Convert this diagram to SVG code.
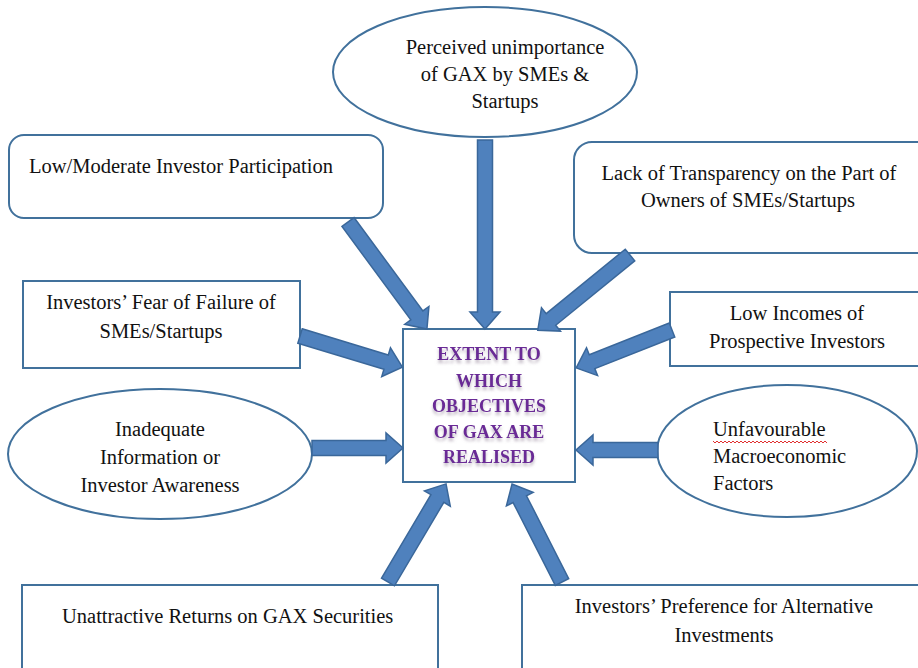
<svg xmlns="http://www.w3.org/2000/svg" width="918" height="668" viewBox="0 0 918 668">
<style>
.box{fill:#fff;stroke:#41719c;stroke-width:2}
.t{font-family:"Liberation Serif","Times New Roman",serif;font-size:20.5px;fill:#111}
.m{text-anchor:middle}
.c{font-family:"Liberation Serif","Times New Roman",serif;font-size:18px;font-weight:bold;fill:#6a2c96;text-anchor:middle}
.arr{fill:#4f81bd;stroke:#3a679a;stroke-width:1.5;stroke-linejoin:miter}
</style>
<defs>
<filter id="sh" x="-20%" y="-20%" width="140%" height="160%">
<feDropShadow dx="0" dy="3" stdDeviation="1.5" flood-color="#8a7a90" flood-opacity="0.55"/>
</filter>
</defs>
<rect width="918" height="668" fill="#fff"/>

<g id="center">
<rect class="box" x="403" y="329" width="172" height="153"/>
<g filter="url(#sh)">
<text class="c" x="489" y="360">EXTENT TO</text>
<text class="c" x="489" y="387">WHICH</text>
<text class="c" x="489" y="412">OBJECTIVES</text>
<text class="c" x="489" y="438">OF GAX ARE</text>
<text class="c" x="489" y="463">REALISED</text>
</g>
</g>

<g id="perceived">
<ellipse class="box" cx="485" cy="72" rx="152" ry="65"/>
<text class="t m" x="505" y="54">Perceived unimportance</text>
<text class="t m" x="505" y="81">of GAX by SMEs &amp;</text>
<text class="t m" x="505" y="108">Startups</text>
</g>

<g id="lowmod">
<rect class="box" x="9" y="135" width="374" height="83" rx="15"/>
<text class="t" x="29" y="173">Low/Moderate Investor Participation</text>
</g>

<g id="lack">
<rect class="box" x="574" y="142" width="360" height="111" rx="18"/>
<text class="t m" x="749" y="180">Lack of Transparency on the Part of</text>
<text class="t m" x="748" y="207">Owners of SMEs/Startups</text>
</g>

<g id="fear">
<rect class="box" x="23" y="281" width="277" height="87"/>
<text class="t m" x="161" y="309">Investors’ Fear of Failure of</text>
<text class="t m" x="161" y="338">SMEs/Startups</text>
</g>

<g id="incomes">
<rect class="box" x="670" y="292" width="260" height="74"/>
<text class="t m" x="797" y="320">Low Incomes of</text>
<text class="t m" x="797" y="348">Prospective Investors</text>
</g>

<g id="inadequate">
<ellipse class="box" cx="160" cy="454" rx="152" ry="65"/>
<text class="t m" x="160" y="436">Inadequate</text>
<text class="t m" x="160" y="464">Information or</text>
<text class="t m" x="160" y="492">Investor Awareness</text>
</g>

<g id="unfavourable">
<ellipse class="box" cx="787" cy="451" rx="130" ry="66"/>
<text class="t" x="713" y="436">Unfavourable</text>
<path d="M713,441 l2,2 l2,-2 l2,2 l2,-2 l2,2 l2,-2 l2,2 l2,-2 l2,2 l2,-2 l2,2 l2,-2 l2,2 l2,-2 l2,2 l2,-2 l2,2 l2,-2 l2,2 l2,-2 l2,2 l2,-2 l2,2 l2,-2 l2,2 l2,-2 l2,2 l2,-2 l2,2 l2,-2 l2,2 l2,-2 l2,2 l2,-2 l2,2 l2,-2 l2,2 l2,-2 l2,2 l2,-2 l2,2 l2,-2 l2,2 l2,-2 l2,2 l2,-2 l2,2 l2,-2 l2,2 l2,-2 l2,2 l2,-2 l2,2 l2,-2 l2,2 l2,-2 l2,2" fill="none" stroke="#e03030" stroke-width="1"/>
<text class="t" x="713" y="463">Macroeconomic</text>
<text class="t" x="713" y="490">Factors</text>
</g>

<g id="unattractive">
<rect class="box" x="22" y="585" width="416" height="95"/>
<text class="t" x="62" y="623">Unattractive Returns on GAX Securities</text>
</g>

<g id="preference">
<rect class="box" x="522" y="585" width="410" height="95"/>
<text class="t m" x="724" y="613">Investors’ Preference for Alternative</text>
<text class="t m" x="724" y="642">Investments</text>
</g>

<g id="connectors">
<path class="arr" transform="translate(485,140) rotate(90)" d="M0,-7.5 L172,-7.5 L172,-15 L189,0 L172,15 L172,7.5 L0,7.5 Z"/>
<path class="arr" transform="translate(348,222) rotate(53.6)" d="M0,-7.5 L116,-7.5 L116,-15 L133,0 L116,15 L116,7.5 L0,7.5 Z"/>
<path class="arr" transform="translate(630,255) rotate(140.8)" d="M0,-7.5 L102,-7.5 L102,-15 L119,0 L102,15 L102,7.5 L0,7.5 Z"/>
<path class="arr" transform="translate(300,336) rotate(16.9)" d="M0,-7.5 L90,-7.5 L90,-15 L107,0 L90,15 L90,7.5 L0,7.5 Z"/>
<path class="arr" transform="translate(312,448) rotate(0)" d="M0,-7.5 L74,-7.5 L74,-15 L91,0 L74,15 L74,7.5 L0,7.5 Z"/>
<path class="arr" transform="translate(672,330) rotate(158.4)" d="M0,-7.5 L86,-7.5 L86,-15 L103,0 L86,15 L86,7.5 L0,7.5 Z"/>
<path class="arr" transform="translate(658,450) rotate(180)" d="M0,-7.5 L65,-7.5 L65,-15 L82,0 L65,15 L65,7.5 L0,7.5 Z"/>
<path class="arr" transform="translate(388,582) rotate(-59.4)" d="M0,-7.5 L97,-7.5 L97,-15 L114,0 L97,15 L97,7.5 L0,7.5 Z"/>
<path class="arr" transform="translate(562,582) rotate(-117)" d="M0,-7.5 L93,-7.5 L93,-15 L110,0 L93,15 L93,7.5 L0,7.5 Z"/>
</g>
</svg>
